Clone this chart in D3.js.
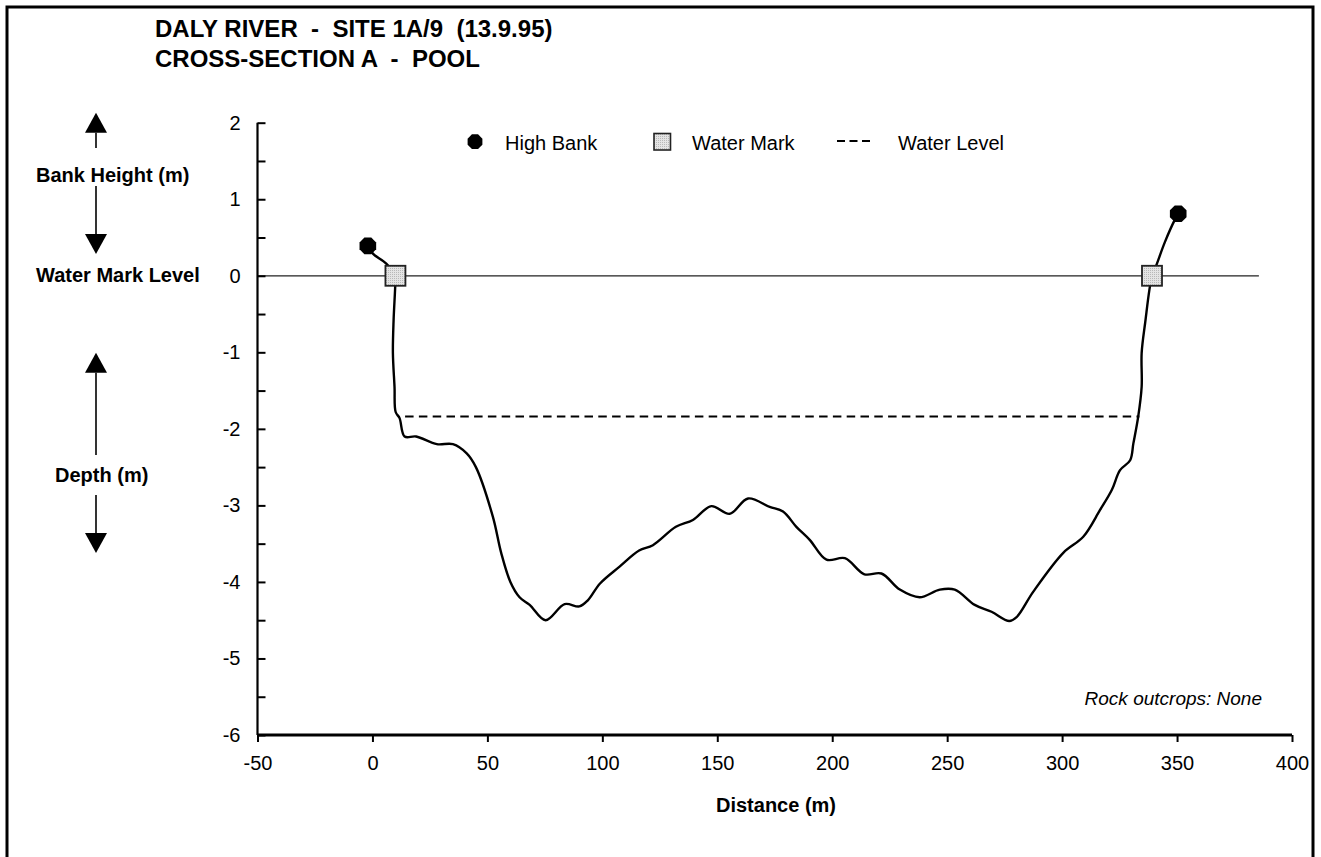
<!DOCTYPE html>
<html>
<head>
<meta charset="utf-8">
<script src="https://cdn.jsdelivr.net/npm/d3@7"></script>
<style>
  html, body { margin: 0; padding: 0; background: #fff; }
  svg { display: block; font-family: "Liberation Sans", Arial, sans-serif; }
  text { white-space: pre; }
</style>
</head>
<body>
<svg id="chart" width="1321" height="857"></svg>
<script>
// ---------------- DATA ----------------
const titleLines = ["DALY RIVER  -  SITE 1A/9  (13.9.95)", "CROSS-SECTION A  -  POOL"];
const xTicks = [-50, 0, 50, 100, 150, 200, 250, 300, 350, 400];
const yTicks = [-6, -5, -4, -3, -2, -1, 0, 1, 2];
const yMinorTicks = [-5.5, -4.5, -3.5, -2.5, -1.5, -0.5, 0.5, 1.5];
const xLabel = "Distance (m)";
const noteText = "Rock outcrops: None";

// bed profile (distance m, level m relative to water mark)
const profileDist = [-2, 0.2, 6, 10, 9.9, 9.2, 8.9, 9.6, 10.1, 11.8, 14, 19, 28, 35, 41, 45,
  52.4, 56, 60, 64, 68.4, 75.3, 83.6, 90, 93.7, 99, 107.5, 116, 122, 132, 139.4, 147.4,
  155.4, 163.4, 172.8, 178.6, 184.4, 190.2, 197.5, 205.5, 214, 221.4, 229.4, 238, 246.8,
  253.3, 262, 269.3, 277, 280.2, 287.4, 300.5, 309.2, 316.5, 321.6, 325.2, 329.6, 331,
  333.1, 334.6, 334.6, 336.1, 339.1, 341, 344.7, 349, 350.5];
const profileLevel = [0.39, 0.29, 0.16, 0, -0.14, -0.58, -1.01, -1.45, -1.78, -1.86, -2.10,
  -2.10, -2.20, -2.20, -2.32, -2.50, -3.15, -3.62, -4.00, -4.20, -4.30, -4.50, -4.29, -4.32,
  -4.24, -4.02, -3.80, -3.59, -3.52, -3.28, -3.19, -3.01, -3.11, -2.91, -3.02, -3.08, -3.28,
  -3.45, -3.71, -3.69, -3.90, -3.89, -4.10, -4.20, -4.10, -4.10, -4.30, -4.39, -4.51, -4.46,
  -4.13, -3.62, -3.41, -3.06, -2.80, -2.54, -2.41, -2.19, -1.84, -1.45, -1.01, -0.62, 0,
  0.14, 0.44, 0.73, 0.81];

const highBankDist = [-2, 350.5];
const highBankLevel = [0.39, 0.81];
const waterMarkDist = [10, 339.1];
const waterMarkLevel = [0, 0];
const waterLevelDist = [14.2, 333.6];
const waterLevelValue = -1.84;
const zeroLineDist = [-50, 385.6];

const legendLabels = ["High Bank", "Water Mark", "Water Level"];
const sideLabels = ["Bank Height (m)", "Water Mark Level", "Depth (m)"];

// ---------------- LAYOUT ----------------
const svg = d3.select("#chart");
const FONT = 20;
const x = d3.scaleLinear().domain([-50, 400]).range([257.5, 1292]);
const y = d3.scaleLinear().domain([-6, 2]).range([735, 122.7]);

// pattern for water mark squares
const defs = svg.append("defs");
const pat = defs.append("pattern").attr("id", "dots").attr("patternUnits", "userSpaceOnUse")
  .attr("width", 2).attr("height", 2);
pat.append("rect").attr("width", 2).attr("height", 2).attr("fill", "#e4e4e4");
pat.append("rect").attr("width", 1).attr("height", 1).attr("fill", "#b8b8b8");

// outer frame
svg.append("rect").attr("x", 7).attr("y", 7).attr("width", 1306).attr("height", 900)
  .attr("fill", "none").attr("stroke", "#000").attr("stroke-width", 3);

// title
svg.append("g").selectAll("text").data(titleLines).join("text")
  .attr("x", 155).attr("y", (d, i) => 37 + i * 30)
  .attr("xml:space", "preserve")
  .attr("font-size", 24).attr("font-weight", "bold").text(d => d);

// zero (water mark) line
svg.append("line")
  .attr("x1", x(zeroLineDist[0])).attr("x2", x(zeroLineDist[1]))
  .attr("y1", y(0)).attr("y2", y(0))
  .attr("stroke", "#222").attr("stroke-width", 1.3);

// water level dashed
svg.append("line")
  .attr("x1", x(waterLevelDist[0])).attr("x2", x(waterLevelDist[1]))
  .attr("y1", y(waterLevelValue)).attr("y2", y(waterLevelValue))
  .attr("stroke", "#000").attr("stroke-width", 2).attr("stroke-dasharray", "8.5,5.3");

// profile line
const profile = profileDist.map((d, i) => [d, profileLevel[i]]);
svg.append("path").datum(profile)
  .attr("d", d3.line().x(d => x(d[0])).y(d => y(d[1])).curve(d3.curveCatmullRom.alpha(0.5)))
  .attr("fill", "none").attr("stroke", "#000").attr("stroke-width", 2.4)
  .attr("stroke-linejoin", "round");

// axes
const fmt = d => String(d);
const yAxis = d3.axisLeft(y).tickValues(yTicks).tickSize(-8).tickPadding(17).tickFormat(fmt);
const yg = svg.append("g").attr("transform", `translate(${x(-50)},0)`).call(yAxis);
const yMinor = d3.axisLeft(y).tickValues(yMinorTicks).tickSize(-8).tickFormat("");
const ymg = svg.append("g").attr("transform", `translate(${x(-50)},0)`).call(yMinor);
ymg.select(".domain").remove();

const xAxis = d3.axisBottom(x).tickValues(xTicks).tickSize(7).tickPadding(13.8).tickFormat(fmt);
const xg = svg.append("g").attr("transform", `translate(0,${y(-6)})`).call(xAxis);

[yg, ymg, xg].forEach(g => {
  g.selectAll("text").attr("font-size", FONT).attr("fill", "#000")
    .attr("font-family", '"Liberation Sans", Arial, sans-serif');
  g.selectAll("line").attr("stroke", "#000").attr("stroke-width", 2);
});
yg.select(".domain").attr("stroke", "#000").attr("stroke-width", 2.2)
  .attr("d", `M0,${y(2)}V${y(-6)}`);
xg.select(".domain").attr("stroke", "#000").attr("stroke-width", 3)
  .attr("d", `M${x(-50)},0H${x(400)}`);

// x label
svg.append("text").attr("x", 776).attr("y", 812).attr("text-anchor", "middle")
  .attr("font-size", FONT).attr("font-weight", "bold").text(xLabel);

// note
svg.append("text").attr("x", 1262).attr("y", 705).attr("text-anchor", "end")
  .attr("font-size", 19).attr("font-style", "italic").text(noteText);

// markers
function octagon(cx, cy, r) {
  const pts = d3.range(8).map(i => {
    const a = Math.PI / 8 + i * Math.PI / 4;
    return [cx + r * Math.cos(a), cy + r * Math.sin(a)];
  });
  return "M" + pts.map(p => p.join(",")).join("L") + "Z";
}
svg.append("g").selectAll("path").data(highBankDist).join("path")
  .attr("d", (d, i) => octagon(x(d), y(highBankLevel[i]), 9))
  .attr("fill", "#000");
const sq = 20;
svg.append("g").selectAll("rect").data(waterMarkDist).join("rect")
  .attr("x", d => x(d) - sq / 2).attr("y", (d, i) => y(waterMarkLevel[i]) - sq / 2)
  .attr("width", sq).attr("height", sq)
  .attr("fill", "url(#dots)").attr("stroke", "#222").attr("stroke-width", 1.8);

// legend
const lg = svg.append("g").attr("font-size", FONT);
lg.append("path").attr("d", octagon(475, 141.7, 8)).attr("fill", "#000");
lg.append("text").attr("x", 505).attr("y", 149.5).text(legendLabels[0]);
lg.append("rect").attr("x", 654).attr("y", 133.5).attr("width", 16.5).attr("height", 16.5)
  .attr("fill", "url(#dots)").attr("stroke", "#222").attr("stroke-width", 1.6);
lg.append("text").attr("x", 692).attr("y", 149.5).text(legendLabels[1]);
lg.append("line").attr("x1", 837).attr("x2", 870).attr("y1", 141).attr("y2", 141)
  .attr("stroke", "#000").attr("stroke-width", 2).attr("stroke-dasharray", "8,4.5");
lg.append("text").attr("x", 898).attr("y", 149.5).text(legendLabels[2]);

// side annotations with arrows
const ag = svg.append("g");
function arrow(x0, yShaftEnd, yTip) {
  const dir = yTip < yShaftEnd ? -1 : 1;
  const baseY = yTip - dir * 20;
  ag.append("line").attr("x1", x0).attr("x2", x0).attr("y1", yShaftEnd).attr("y2", baseY)
    .attr("stroke", "#000").attr("stroke-width", 1.6);
  ag.append("path").attr("d", `M${x0},${yTip}L${x0 - 11},${baseY}L${x0 + 11},${baseY}Z`)
    .attr("fill", "#000");
}
arrow(96, 148, 112.7);
arrow(96, 186, 254);
arrow(96, 455, 352.7);
arrow(96, 495, 553);
ag.append("text").attr("x", 36).attr("y", 182).attr("font-size", FONT).attr("font-weight", "bold")
  .text(sideLabels[0]);
ag.append("text").attr("x", 36).attr("y", 282).attr("font-size", FONT).attr("font-weight", "bold")
  .text(sideLabels[1]);
ag.append("text").attr("x", 55).attr("y", 482).attr("font-size", FONT).attr("font-weight", "bold")
  .text(sideLabels[2]);
</script>
</body>
</html>
